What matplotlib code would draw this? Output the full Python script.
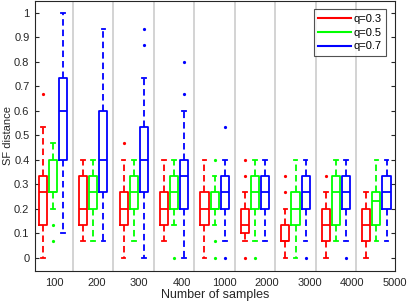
import matplotlib
matplotlib.use("Agg")
from matplotlib import pyplot as plt
from matplotlib.lines import Line2D
import numpy as np

plt.rcParams['font.family'] = ['Liberation Sans', 'DejaVu Sans']

samples = ['100', '200', '300', '400', '1000', '2000', '3000', '4000', '5000']
series = ['q=0.3', 'q=0.5', 'q=0.7']
colors = ['#ff0000', '#00ff00', '#0000ff']

# q=0.3
red_med = [0.267, 0.2, 0.2, 0.2, 0.2, 0.133, 0.067, 0.133, 0.133]
red_q1 = [0.133, 0.133, 0.133, 0.133, 0.133, 0.1, 0.067, 0.067, 0.067]
red_q3 = [0.333, 0.333, 0.267, 0.267, 0.267, 0.2, 0.133, 0.2, 0.2]
red_lo = [0.0, 0.067, 0.0, 0.067, 0.0, 0.067, 0.0, 0.0, 0.0]
red_hi = [0.533, 0.4, 0.4, 0.4, 0.4, 0.267, 0.2, 0.267, 0.267]
red_out = [[0.667], [], [0.467], [], [], [0.4, 0.333, 0.0], [0.333, 0.267], [0.333], []]

# q=0.5
green_med = [0.267, 0.267, 0.267, 0.267, 0.2, 0.267, 0.2, 0.267, 0.233]
green_q1 = [0.267, 0.2, 0.2, 0.2, 0.2, 0.2, 0.133, 0.133, 0.133]
green_q3 = [0.4, 0.333, 0.333, 0.333, 0.267, 0.333, 0.267, 0.333, 0.267]
green_lo = [0.2, 0.067, 0.067, 0.133, 0.133, 0.067, 0.0, 0.067, 0.067]
green_hi = [0.467, 0.4, 0.4, 0.4, 0.333, 0.4, 0.4, 0.4, 0.4]
green_out = [[0.133, 0.067], [], [], [0.0], [0.4, 0.067, 0.0], [0.0], [], [], []]

# q=0.7
blue_med = [0.6, 0.4, 0.4, 0.333, 0.267, 0.267, 0.267, 0.267, 0.267]
blue_q1 = [0.4, 0.267, 0.267, 0.2, 0.2, 0.2, 0.2, 0.2, 0.2]
blue_q3 = [0.733, 0.6, 0.533, 0.4, 0.333, 0.333, 0.333, 0.333, 0.333]
blue_lo = [0.1, 0.067, 0.0, 0.0, 0.067, 0.067, 0.067, 0.067, 0.067]
blue_hi = [1.0, 0.933, 0.733, 0.6, 0.4, 0.4, 0.4, 0.4, 0.4]
blue_out = [[], [], [0.933, 0.867], [0.8, 0.667], [0.533, 0.0], [], [0.0], [0.0], []]

all_stats = [
    (red_med, red_q1, red_q3, red_lo, red_hi, red_out),
    (green_med, green_q1, green_q3, green_lo, green_hi, green_out),
    (blue_med, blue_q1, blue_q3, blue_lo, blue_hi, blue_out),
]

fig = plt.figure(figsize=(4.07, 3.02), dpi=100)
ax = fig.add_axes([0.086, 0.103, 0.884, 0.894])

centers = np.arange(1, len(samples) + 1)
offsets = [-0.25, 0.0, 0.25]

# gray separators between sample groups
for k in range(len(samples) - 1):
    ax.axvline(centers[k] + 0.5, color='#d0d0d0', lw=1.3, zorder=0)

for j, (med, q1, q3, lo, hi, out) in enumerate(all_stats):
    c = colors[j]
    stats = []
    for i in range(len(samples)):
        stats.append({'med': med[i], 'q1': q1[i], 'q3': q3[i],
                      'whislo': lo[i], 'whishi': hi[i], 'fliers': out[i]})
    ax.bxp(stats, positions=centers + offsets[j], widths=0.2, capwidths=0.09,
           showfliers=True, manage_ticks=False,
           boxprops=dict(color=c, lw=1.3),
           medianprops=dict(color=c, lw=1.3),
           whiskerprops=dict(color=c, lw=1.3, linestyle=(0, (3.6, 2.2))),
           capprops=dict(color=c, lw=1.3),
           flierprops=dict(marker='o', markersize=1.3, markerfacecolor=c,
                           markeredgecolor=c, linestyle='none'))

ax.set_xlim(0.56, 9.45)
ax.set_ylim(-0.053, 1.048)
ax.set_yticks(np.arange(0, 1.01, 0.1))
ax.set_yticklabels(['0', '0.1', '0.2', '0.3', '0.4', '0.5', '0.6', '0.7', '0.8', '0.9', '1'])
ax.set_xticks(1.03 + 1.053 * np.arange(len(samples)))
ax.set_xticklabels(samples)
ax.tick_params(axis='x', length=0, labelsize=8, colors='#262626', pad=5)
ax.tick_params(axis='y', direction='in', length=3, width=0.8, labelsize=8,
               colors='#262626', right=True, pad=4)
for s in ax.spines.values():
    s.set_color('#262626')
    s.set_linewidth(0.8)

ax.set_xlabel('Number of samples', fontsize=9, color='#262626', labelpad=1)
ax.set_ylabel('SF distance', fontsize=8, color='#262626')
ax.yaxis.set_label_coords(-0.062, 0.5)

handles = [Line2D([0], [0], color=c, lw=1.5) for c in colors]
leg = ax.legend(handles, series, loc='upper right', fontsize=8, frameon=True,
                fancybox=False, handlelength=2.9, handletextpad=0.3,
                labelspacing=0.35, borderpad=0.4, borderaxespad=0.75)
leg.get_frame().set_edgecolor('#262626')
leg.get_frame().set_linewidth(0.8)

fig.savefig('out.png', dpi=100)
